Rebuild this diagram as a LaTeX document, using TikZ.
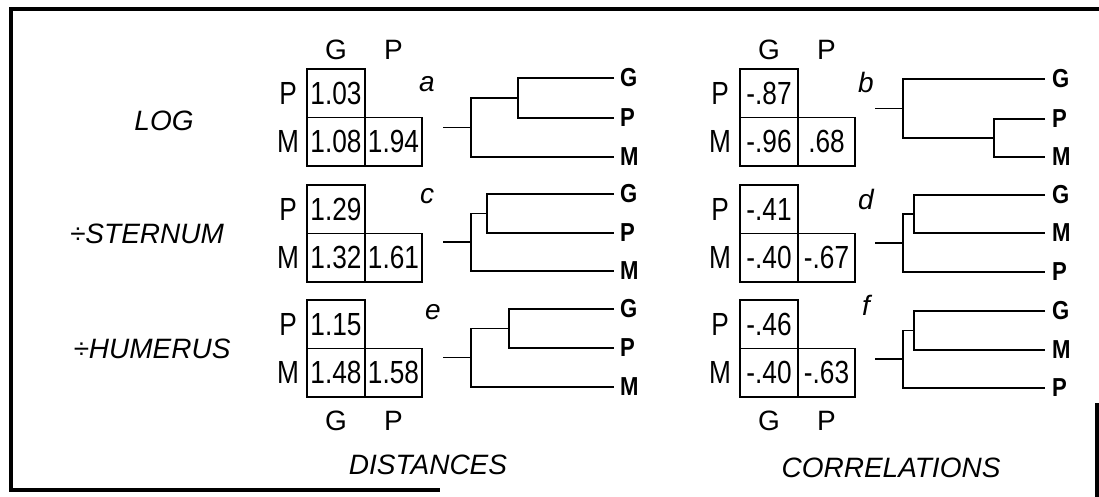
\documentclass[tikz,border=0pt]{standalone}
\usepackage{fontspec}
\setmainfont{Liberation Sans}
\newfontfamily\cellfamily[FakeStretch=0.82]{Liberation Sans}
\newfontfamily\leaffamily[FakeStretch=0.85]{Liberation Sans}
\newcommand\myNumFont{\cellfamily\fontsize{32}{32}\selectfont}
\newcommand\myHdrFont{\fontsize{28}{28}\selectfont}
\newcommand\myLblFont{\itshape\fontsize{28}{28}\selectfont}
\newcommand\myLeafFont{\leaffamily\bfseries\fontsize{26}{26}\selectfont}
\newcommand\myLetFont{\itshape\fontsize{28}{28}\selectfont}
\tikzset{
  cell/.style={draw, line width=1.8pt, minimum width=57.5pt, minimum height=48.5pt, inner sep=0pt, font=\myNumFont},
  rowlab/.style={inner sep=0pt, font=\myNumFont},
  hdr/.style={inner sep=0pt, font=\myHdrFont},
  title/.style={inner sep=0pt, font=\myLblFont},
  leaf/.style={inner sep=0pt, anchor=west, font=\myLeafFont},
  letter/.style={inner sep=0pt, font=\myLetFont},
  tree/.style={line width=1.8pt},
  frame/.style={line width=3.6pt}
}
\begin{document}
\begin{tikzpicture}[x=1pt,y=-1pt]
\useasboundingbox (0,0) rectangle (1099,497);
% frame
\coordinate (f1) at (1099,9);
\coordinate (f2) at (11,9);
\coordinate (f3) at (11,490);
\coordinate (f4) at (440,490);
\coordinate (f5) at (1097,403);
\coordinate (f6) at (1097,497);
\draw[frame] (f1) -- (f2) -- (f3) -- (f4);
\draw[frame] (f5) -- (f6);

% row titles
\node[title] (tlog) at (164,121) {LOG};
\node[title] (tste) at (147,234) {÷STERNUM};
\node[title] (thum) at (152,349) {÷HUMERUS};
\node[title] (tdis) at (428,465) {DISTANCES};
\node[title] (tcor) at (891,468) {CORRELATIONS};

% headers
\node[hdr] (hLG) at (336,50) {G};
\node[hdr] (hLP) at (393.5,50) {P};
\node[hdr] (hRG) at (769,50) {G};
\node[hdr] (hRP) at (826.5,50) {P};
\node[hdr] (bLG) at (336,421) {G};
\node[hdr] (bLP) at (393.5,421) {P};
\node[hdr] (bRG) at (769,421) {G};
\node[hdr] (bRP) at (826.5,421) {P};

% ---- left matrices (distances)
\node[cell] (L1pg) at (336,93.25) {1.03};
\node[cell] (L1mg) at (336,141.75) {1.08};
\node[cell] (L1mp) at (393.5,141.75) {1.94};
\node[cell] (L2pg) at (336,209.25) {1.29};
\node[cell] (L2mg) at (336,257.75) {1.32};
\node[cell] (L2mp) at (393.5,257.75) {1.61};
\node[cell] (L3pg) at (336,324.25) {1.15};
\node[cell] (L3mg) at (336,372.75) {1.48};
\node[cell] (L3mp) at (393.5,372.75) {1.58};
\node[rowlab] (L1P) at (288,93.25) {P};
\node[rowlab] (L1M) at (288,141.75) {M};
\node[rowlab] (L2P) at (288,209.25) {P};
\node[rowlab] (L2M) at (288,257.75) {M};
\node[rowlab] (L3P) at (288,324.25) {P};
\node[rowlab] (L3M) at (288,372.75) {M};

% ---- right matrices (correlations)
\node[cell] (R1pg) at (769,93.25) {-.87};
\node[cell] (R1mg) at (769,141.75) {-.96};
\node[cell] (R1mp) at (826.5,141.75) {.68};
\node[cell] (R2pg) at (769,209.25) {-.41};
\node[cell] (R2mg) at (769,257.75) {-.40};
\node[cell] (R2mp) at (826.5,257.75) {-.67};
\node[cell] (R3pg) at (769,324.25) {-.46};
\node[cell] (R3mg) at (769,372.75) {-.40};
\node[cell] (R3mp) at (826.5,372.75) {-.63};
\node[rowlab] (R1P) at (720,93.25) {P};
\node[rowlab] (R1M) at (720,141.75) {M};
\node[rowlab] (R2P) at (720,209.25) {P};
\node[rowlab] (R2M) at (720,257.75) {M};
\node[rowlab] (R3P) at (720,324.25) {P};
\node[rowlab] (R3M) at (720,372.75) {M};

% panel letters
\node[letter] (la) at (427,84) {a};
\node[letter] (lc) at (427,196) {c};
\node[letter] (le) at (433,312) {e};
\node[letter] (lb) at (866,82) {b};
\node[letter] (ld) at (866,199) {d};
\node[letter] (lf) at (866,305) {f};

% ---- dendrogram a
\coordinate (a1) at (614,78);
\coordinate (a2) at (614,118);
\coordinate (a3) at (614,157);
\coordinate (ain) at (518,98);
\coordinate (art) at (471,127.5);
\coordinate (ast) at (443,127.5);
\node[leaf] (aG) at (620,78) {G};
\node[leaf] (aP) at (620,118) {P};
\node[leaf] (aM) at (620,157) {M};
\draw[tree] (a1) -| (ain) |- (a2);
\draw[tree] (ain) -| (art) |- (a3);
\draw[tree] (ast) -- (art);

% ---- dendrogram c
\coordinate (c1) at (614,194);
\coordinate (c2) at (614,233);
\coordinate (c3) at (614,271);
\coordinate (cin) at (487,213.5);
\coordinate (crt) at (471,242);
\coordinate (cst) at (443,242);
\node[leaf] (cG) at (620,194) {G};
\node[leaf] (cP) at (620,233) {P};
\node[leaf] (cM) at (620,271) {M};
\draw[tree] (c1) -| (cin) |- (c2);
\draw[tree] (cin) -| (crt) |- (c3);
\draw[tree] (cst) -- (crt);

% ---- dendrogram e
\coordinate (e1) at (614,309);
\coordinate (e2) at (614,348);
\coordinate (e3) at (614,387);
\coordinate (ein) at (509,328.5);
\coordinate (ert) at (471,357.5);
\coordinate (est) at (443,357.5);
\node[leaf] (eG) at (620,309) {G};
\node[leaf] (eP) at (620,348) {P};
\node[leaf] (eM) at (620,387) {M};
\draw[tree] (e1) -| (ein) |- (e2);
\draw[tree] (ein) -| (ert) |- (e3);
\draw[tree] (est) -- (ert);

% ---- dendrogram b
\coordinate (b1) at (1045,79);
\coordinate (b2) at (1045,119);
\coordinate (b3) at (1045,157);
\coordinate (bin) at (994,138);
\coordinate (brt) at (903,108.5);
\coordinate (bst) at (875,108.5);
\node[leaf] (bG) at (1052,79) {G};
\node[leaf] (bP) at (1052,119) {P};
\node[leaf] (bM) at (1052,157) {M};
\draw[tree] (b2) -| (bin) |- (b3);
\draw[tree] (bin) -| (brt) |- (b1);
\draw[tree] (bst) -- (brt);

% ---- dendrogram d
\coordinate (d1) at (1045,195);
\coordinate (d2) at (1045,233);
\coordinate (d3) at (1045,272);
\coordinate (din) at (914,214);
\coordinate (drt) at (903,243);
\coordinate (dst) at (875,243);
\node[leaf] (dG) at (1052,195) {G};
\node[leaf] (dM) at (1052,233) {M};
\node[leaf] (dP) at (1052,272) {P};
\draw[tree] (d1) -| (din) |- (d2);
\draw[tree] (din) -| (drt) |- (d3);
\draw[tree] (dst) -- (drt);

% ---- dendrogram f
\coordinate (g1) at (1045,311);
\coordinate (g2) at (1045,350);
\coordinate (g3) at (1045,388);
\coordinate (gin) at (914,330.5);
\coordinate (grt) at (903,359);
\coordinate (gst) at (875,359);
\node[leaf] (gG) at (1052,311) {G};
\node[leaf] (gM) at (1052,350) {M};
\node[leaf] (gP) at (1052,388) {P};
\draw[tree] (g1) -| (gin) |- (g2);
\draw[tree] (gin) -| (grt) |- (g3);
\draw[tree] (gst) -- (grt);
\end{tikzpicture}
\end{document}
